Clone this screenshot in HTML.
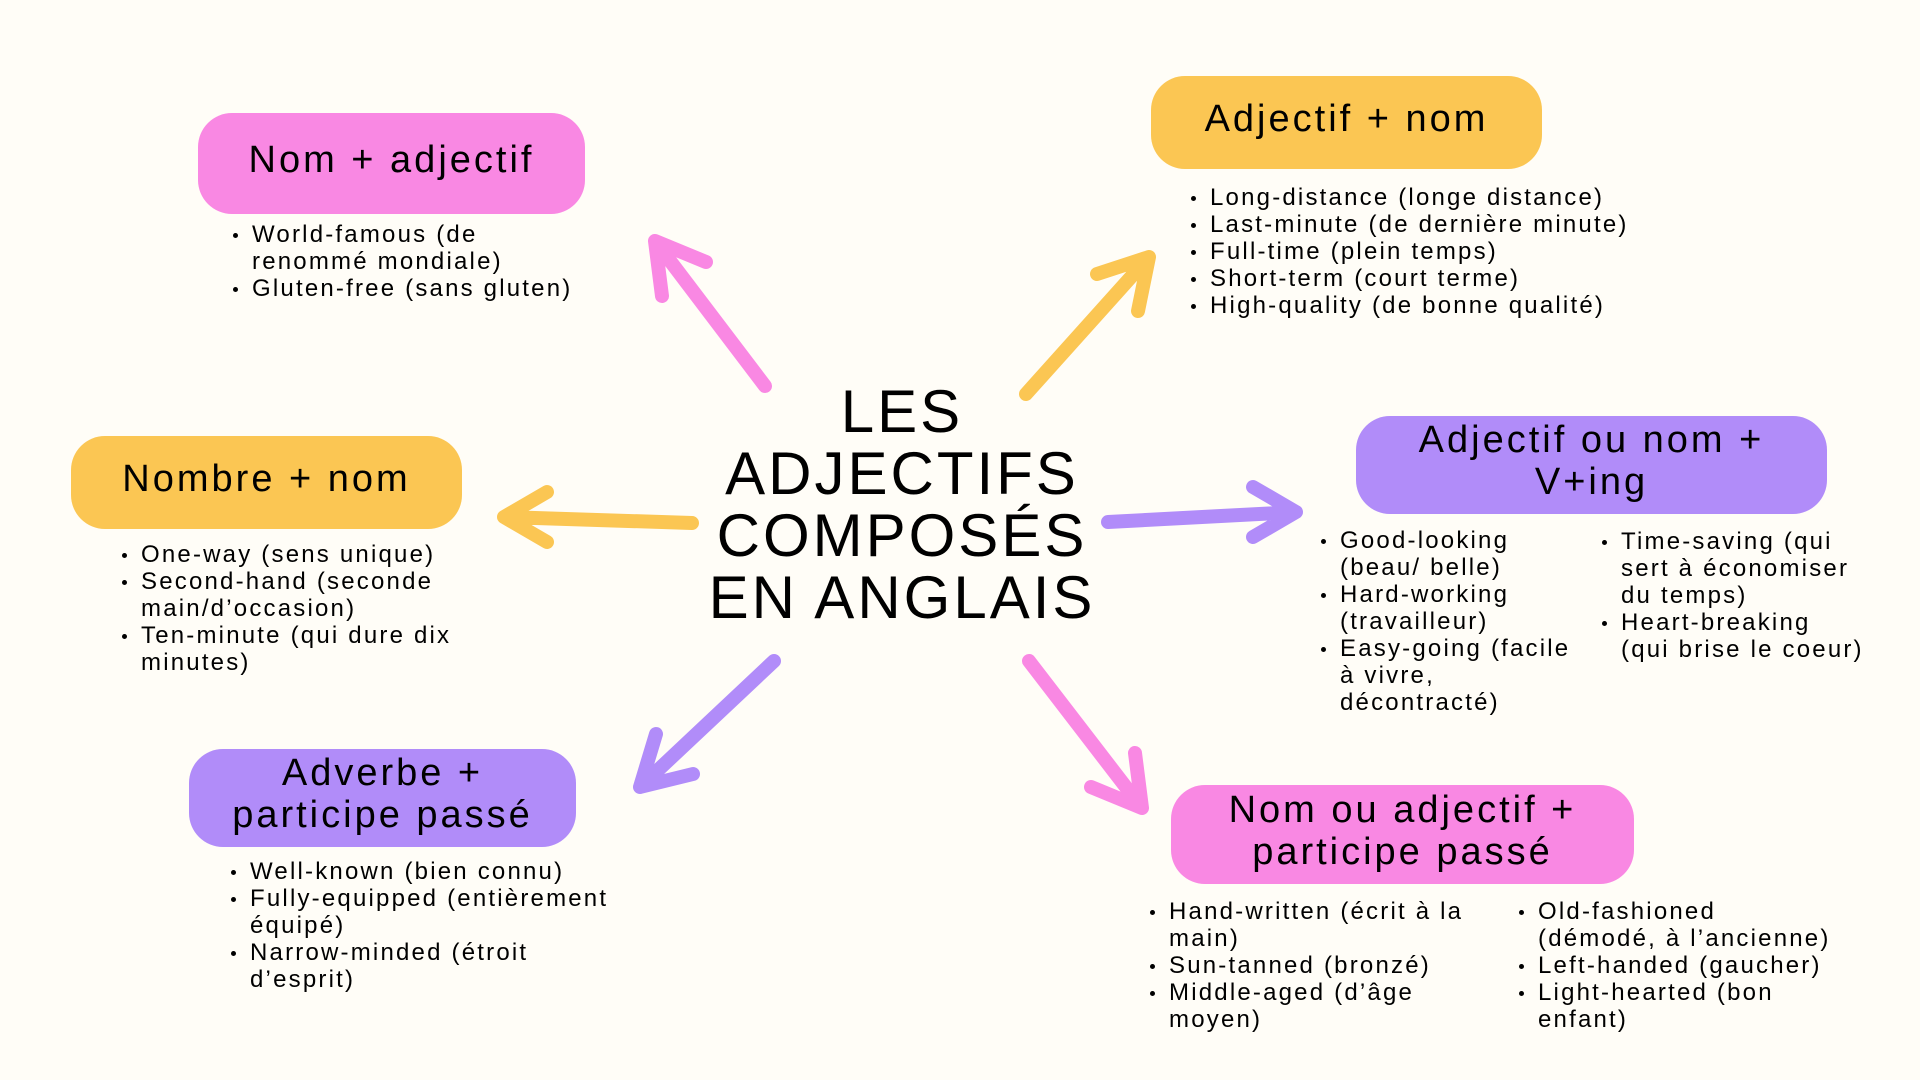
<!DOCTYPE html>
<html><head><meta charset="utf-8"><style>
*{margin:0;padding:0;box-sizing:border-box}
body{width:1920px;height:1080px;background:#fffdf7;position:relative;overflow:hidden;font-family:"Liberation Sans",sans-serif;color:#000}
.box{position:absolute;border-radius:34px;display:flex;align-items:center;justify-content:center;text-align:center;font-size:38px;line-height:42px;letter-spacing:3px;padding-bottom:8px}
.pink{background:#f988e3}.yel{background:#fbc653}.pur{background:#b18cf9}
ul{position:absolute;list-style:none;font-size:24px;line-height:27px;letter-spacing:2.2px}
li{position:relative;padding-left:0}
li:before{content:"";position:absolute;left:-19px;top:12px;width:5px;height:5px;border-radius:50%;background:#000}
.title{position:absolute;left:600px;width:604px;top:381px;text-align:center;font-size:60px;line-height:62px;letter-spacing:3px}
</style></head><body>
<svg width="1920" height="1080" style="position:absolute;left:0;top:0" fill="none" stroke-linecap="round" stroke-linejoin="round">
<g stroke="#f988e3" stroke-width="14">
<path d="M765 386 L655 241 M662 296 L655 241 L706 262"/>
<path d="M1029 661 L1142 808 M1135 753 L1142 808 L1091 787"/>
</g>
<g stroke="#fbc653" stroke-width="14">
<path d="M1026 394 L1149 257 M1097 274 L1149 257 L1138 311"/>
<path d="M692 523 L504 517 M547 492 L504 517 L547 542"/>
</g>
<g stroke="#b18cf9" stroke-width="14">
<path d="M1108 522 L1296 512 M1253 487 L1296 512 L1253 537"/>
<path d="M774 661 L640 787 M693 774 L640 787 L656 734"/>
</g>
</svg>
<div class="title">LES<br>ADJECTIFS<br>COMPOSÉS<br>EN ANGLAIS</div>

<div class="box pink" style="left:198px;top:113px;width:387px;height:101px">Nom + adjectif</div>
<ul style="left:252px;top:221px;width:360px"><li>World-famous (de<br>renommé mondiale)</li><li>Gluten-free (sans gluten)</li></ul>

<div class="box yel" style="left:1151px;top:76px;width:391px;height:93px">Adjectif + nom</div>
<ul style="left:1210px;top:184px;width:500px"><li>Long-distance (longe distance)</li><li>Last-minute (de dernière minute)</li><li>Full-time (plein temps)</li><li>Short-term (court terme)</li><li>High-quality (de bonne qualité)</li></ul>

<div class="box yel" style="left:71px;top:436px;width:391px;height:93px">Nombre + nom</div>
<ul style="left:141px;top:541px;width:360px"><li>One-way (sens unique)</li><li>Second-hand (seconde<br>main/d’occasion)</li><li>Ten-minute (qui dure dix<br>minutes)</li></ul>

<div class="box pur" style="left:1356px;top:416px;width:471px;height:98px">Adjectif ou nom +<br>V+ing</div>
<ul style="left:1340px;top:527px;width:290px"><li>Good-looking<br>(beau/ belle)</li><li>Hard-working<br>(travailleur)</li><li>Easy-going (facile<br>à vivre,<br>décontracté)</li></ul>
<ul style="left:1621px;top:528px;width:300px"><li>Time-saving (qui<br>sert à économiser<br>du temps)</li><li>Heart-breaking<br>(qui brise le coeur)</li></ul>

<div class="box pur" style="left:189px;top:749px;width:387px;height:98px">Adverbe +<br>participe passé</div>
<ul style="left:250px;top:858px;width:420px"><li>Well-known (bien connu)</li><li>Fully-equipped (entièrement<br>équipé)</li><li>Narrow-minded (étroit<br>d’esprit)</li></ul>

<div class="box pink" style="left:1171px;top:785px;width:463px;height:99px">Nom ou adjectif +<br>participe passé</div>
<ul style="left:1169px;top:898px;width:360px"><li>Hand-written (écrit à la<br>main)</li><li>Sun-tanned (bronzé)</li><li>Middle-aged (d’âge<br>moyen)</li></ul>
<ul style="left:1538px;top:898px;width:380px"><li>Old-fashioned<br>(démodé, à l’ancienne)</li><li>Left-handed (gaucher)</li><li>Light-hearted (bon<br>enfant)</li></ul>
</body></html>
